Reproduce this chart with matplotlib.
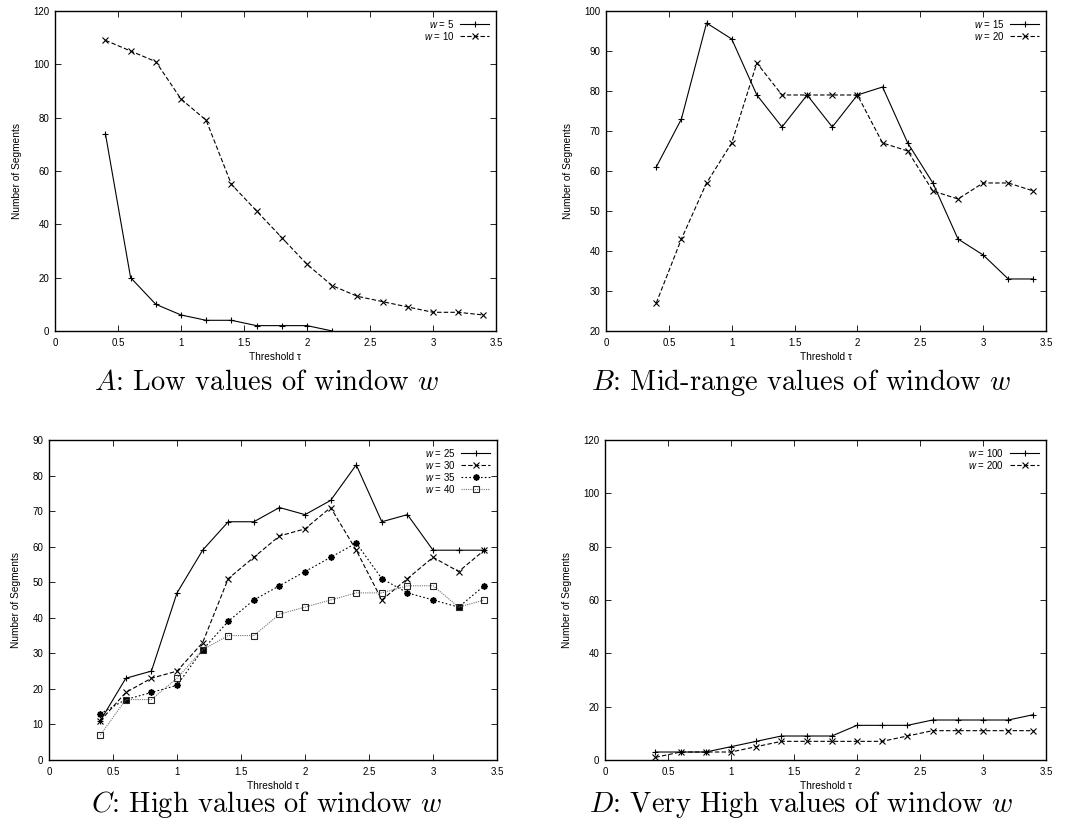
import numpy as np
import matplotlib
matplotlib.use('Agg')
import matplotlib.pyplot as plt

plt.rcParams['font.family'] = ['Liberation Sans', 'DejaVu Sans']
plt.rcParams['mathtext.fontset'] = 'custom'
plt.rcParams['mathtext.rm'] = 'cmr10'
plt.rcParams['mathtext.it'] = 'cmmi10'
plt.rcParams['mathtext.sf'] = 'Liberation Sans:italic'

# threshold values (x axis), shared by all panels
tau = [0.4, 0.6, 0.8, 1.0, 1.2, 1.4, 1.6, 1.8, 2.0, 2.2, 2.4, 2.6, 2.8, 3.0, 3.2, 3.4]

# A: low window values
seg_w5 = [74, 20, 10, 6, 4, 4, 2, 2, 2, 0]
seg_w10 = [109, 105, 101, 87, 79, 55, 45, 35, 25, 17, 13, 11, 9, 7, 7, 6]

# B: mid-range window values
seg_w15 = [61, 73, 97, 93, 79, 71, 79, 71, 79, 81, 67, 57, 43, 39, 33, 33]
seg_w20 = [27, 43, 57, 67, 87, 79, 79, 79, 79, 67, 65, 55, 53, 57, 57, 55]

# C: high window values
seg_w25 = [11, 23, 25, 47, 59, 67, 67, 71, 69, 73, 83, 67, 69, 59, 59, 59]
seg_w30 = [11, 19, 23, 25, 33, 51, 57, 63, 65, 71, 59, 45, 51, 57, 53, 59]
seg_w35 = [13, 17, 19, 21, 31, 39, 45, 49, 53, 57, 61, 51, 47, 45, 43, 49]
seg_w40 = [7, 17, 17, 23, 31, 35, 35, 41, 43, 45, 47, 47, 49, 49, 43, 45]

# D: very high window values
seg_w100 = [3, 3, 3, 5, 7, 9, 9, 9, 13, 13, 13, 15, 15, 15, 15, 17]
seg_w200 = [1, 3, 3, 3, 5, 7, 7, 7, 7, 7, 9, 11, 11, 11, 11, 11]

captions = [r'$A$: Low values of window $w$',
            r'$B$: Mid-range values of window $w$',
            r'$C$: High values of window $w$',
            r'$D$: Very High values of window $w$']

# gnuplot-like line styles
STYLES = [
    dict(color='black', ls='-', marker='+', ms=5, mew=0.8),
    dict(color='black', ls=(0, (4, 2)), marker='x', ms=4, mew=0.8),
    dict(color='black', ls=(0, (1.5, 2)), marker=(8, 2, 0), ms=4.5, mew=1.2),
    dict(color='0.45', ls=(0, (1, 1)), marker='s', ms=4, mew=0.8, mfc='none', mec='0.15'),
]


def draw_panel(ax, series, ylim, yticks):
    for i, (w, vals) in enumerate(series):
        st = dict(STYLES[i])
        ax.plot(tau[:len(vals)], vals, lw=0.8, label=r'$\mathsf{w}$ = %d' % w, **st)

    ax.set_xlim(0, 3.5)
    ax.set_ylim(*ylim)
    ax.set_xticks([0, 0.5, 1, 1.5, 2, 2.5, 3, 3.5])
    ax.set_xticklabels(['0', '0.5', '1', '1.5', '2', '2.5', '3', '3.5'])
    ax.set_yticks(yticks)
    ax.tick_params(direction='in', top=True, right=True, length=4, width=0.6,
                   labelsize=7, pad=4, colors='black')
    ax.tick_params(axis='x', pad=5)
    for sp in ax.spines.values():
        sp.set_linewidth(1.0)

    ax.set_xlabel('Threshold τ', fontsize=7.3, labelpad=3)
    ax.set_ylabel('Number of Segments', fontsize=7.3, labelpad=8)

    ax.legend(loc='upper right', frameon=False, markerfirst=False, fontsize=7,
              handlelength=3.0, handletextpad=0.6, labelspacing=0.0,
              borderaxespad=0.3, alignment='right')


fig = plt.figure(figsize=(10.68, 8.27), dpi=100)

ax_a = fig.add_axes([0.0515, 0.5998, 0.4129, 0.3869])
ax_b = fig.add_axes([0.5674, 0.5998, 0.4120, 0.3869])
ax_c = fig.add_axes([0.0459, 0.0810, 0.4195, 0.3870])
ax_d = fig.add_axes([0.5665, 0.0810, 0.4129, 0.3870])

draw_panel(ax_a, [(5, seg_w5), (10, seg_w10)], (0, 120), range(0, 121, 20))
draw_panel(ax_b, [(15, seg_w15), (20, seg_w20)], (20, 100), range(20, 101, 10))
draw_panel(ax_c, [(25, seg_w25), (30, seg_w30), (35, seg_w35), (40, seg_w40)],
           (0, 90), range(0, 91, 10))
draw_panel(ax_d, [(100, seg_w100), (200, seg_w200)], (0, 120), range(0, 121, 20))

# subfigure captions, centered on each half of the page
cap_pos = [(0.25, 0.5284), (0.75, 0.5284), (0.25, 0.0180), (0.75, 0.0180)]
for (cx, cy), text in zip(cap_pos, captions):
    fig.text(cx, cy, text, ha='center', va='baseline', fontsize=20.5, family='cmr10')

fig.savefig('out.png', dpi=100)
